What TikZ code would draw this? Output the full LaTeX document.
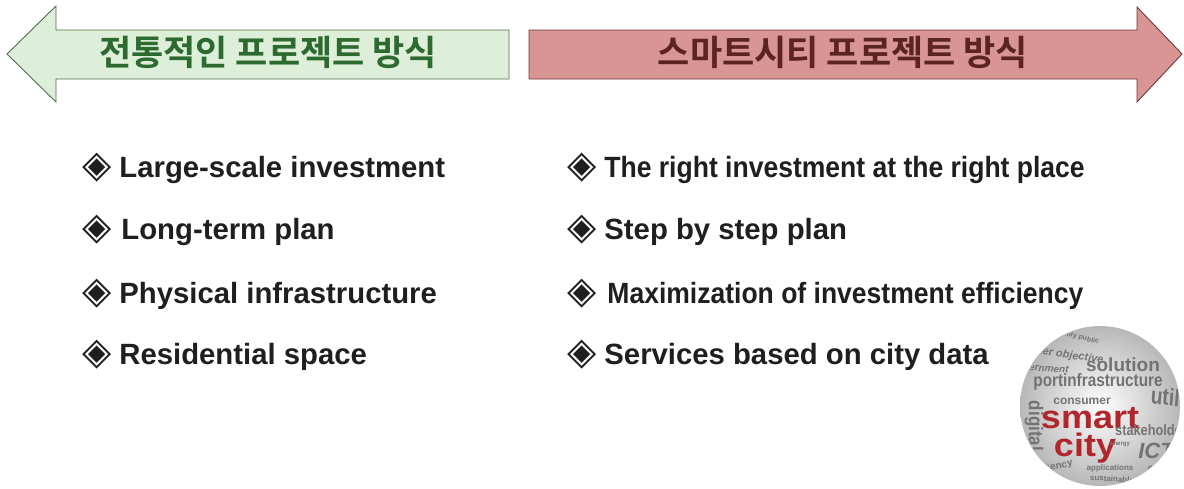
\documentclass[tikz,border=0pt]{standalone}
\usepackage{fontspec}
\setmainfont{Liberation Sans}
\newfontfamily\kofont[BoldFont={Noto Sans CJK KR Bold}]{Noto Sans CJK KR}
\newfontfamily\symfont{DejaVu Sans}

\definecolor{oldfill}{HTML}{DDEFD8}
\definecolor{oldline}{HTML}{4F6E4A}
\definecolor{oldtext}{HTML}{2D6A2F}
\definecolor{newfill}{HTML}{D99593}
\definecolor{newline}{HTML}{6B3A3A}
\definecolor{newtext}{HTML}{5C2323}
\definecolor{cityred}{HTML}{B0262C}

\newcommand{\bul}{{\symfont\fontsize{38}{38}\selectfont ◈}\hspace{8pt}}
\newcommand{\wsize}[1]{\fontsize{#1}{#1}\selectfont}

\tikzset{
  banner/.style={inner sep=0pt, font=\kofont\bfseries\fontsize{35}{40}\selectfont},
  item/.style={anchor=west, inner sep=0pt, text=black!88,
    font=\bfseries\fontsize{29.3}{34}\selectfont},
  cloudword/.style={inner sep=0pt, text=black!55, font=\bfseries},
}

\begin{document}
\begin{tikzpicture}[x=1pt, y=-1pt]
\useasboundingbox (0,0) rectangle (1184,488);

% the two direction arrows
\draw[oldline, line width=0.9pt, fill=oldfill]
  (7,54) -- (56,6) -- (56,30) -- (509,30) -- (509,79) -- (56,79) -- (56,102) -- cycle;
\draw[newline, line width=0.9pt, fill=newfill]
  (529,30) -- (1137,30) -- (1137,7) -- (1182,54) -- (1137,102) -- (1137,79) -- (529,79) -- cycle;

\node[banner, text=oldtext] (oldtitle) at (268,52) {전통적인 프로젝트 방식};
\node[banner, text=newtext] (newtitle) at (843,52) {스마트시티 프로젝트 방식};

% left column
\node[item] (old1) at (82,168) {\bul Large-scale investment};
\node[item] (old2) at (82,230) {\bul\hspace{2pt}Long-term plan};
\node[item] (old3) at (82,294) {\bul Physical infrastructure};
\node[item] (old4) at (82,355) {\bul Residential space};

% right column
\node[item] (new1) at (567,168) {\bul\scalebox{0.905}[1]{The right investment at the right place}};
\node[item] (new2) at (567,230) {\bul Step by step plan};
\node[item] (new3) at (567,294) {\bul\hspace{3pt}\scalebox{0.905}[1]{Maximization of investment efficiency}};
\node[item] (new4) at (567,355) {\bul Services based on city data};

% word sphere
\shade[inner color=white, outer color=black!28] (1100,406) circle (80);
\begin{scope}
\clip (1100,406) circle (79);
\node[cloudword, font=\bfseries\wsize{7}, rotate=-14] (w1) at (1078,337) {ability public};
\node[cloudword, font=\bfseries\itshape\wsize{11}, rotate=-8] (w2) at (1064,355) {water objective};
\node[cloudword, font=\bfseries\itshape\wsize{10}, rotate=-4] (w3) at (1040,369) {government};
\node[cloudword, font=\bfseries\wsize{19}] (w4) at (1123,365) {solution};
\node[cloudword, font=\bfseries\wsize{18}, xscale=0.85] (w5) at (1098,382) {portinfrastructure};
\node[cloudword, font=\bfseries\wsize{24}, xscale=0.8, rotate=-6] (w6) at (1168,397) {utili};
\node[cloudword, font=\bfseries\wsize{12}] (w7) at (1082,401) {consumer};
\node[cloudword, font=\bfseries\wsize{20}, rotate=-90, xscale=0.85] (w8) at (1034,426) {digital};
\node[cloudword, font=\bfseries\wsize{36}, text=cityred, yscale=0.9] (w9) at (1090,418) {smart};
\node[cloudword, font=\bfseries\wsize{15}, xscale=0.85] (w12) at (1151,430) {stakeholder};
\node[cloudword, font=\bfseries\wsize{36}, text=cityred, yscale=0.9] (w11) at (1085,448) {city};
\node[cloudword, font=\bfseries\wsize{6}] (w10) at (1120,445) {energy};
\node[cloudword, font=\bfseries\itshape\wsize{22}] (w13) at (1156,451) {ICT};
\node[cloudword, font=\bfseries\wsize{10}, rotate=12] (w15) at (1050,468) {efficiency};
\node[cloudword, font=\bfseries\wsize{8}] (w16) at (1110,468) {applications};
\node[cloudword, font=\bfseries\itshape\wsize{10}] (w17) at (1162,468) {collab};
\node[cloudword, font=\bfseries\wsize{8}, rotate=-4] (w18) at (1112,479) {sustainable};
\end{scope}
\end{tikzpicture}
\end{document}
